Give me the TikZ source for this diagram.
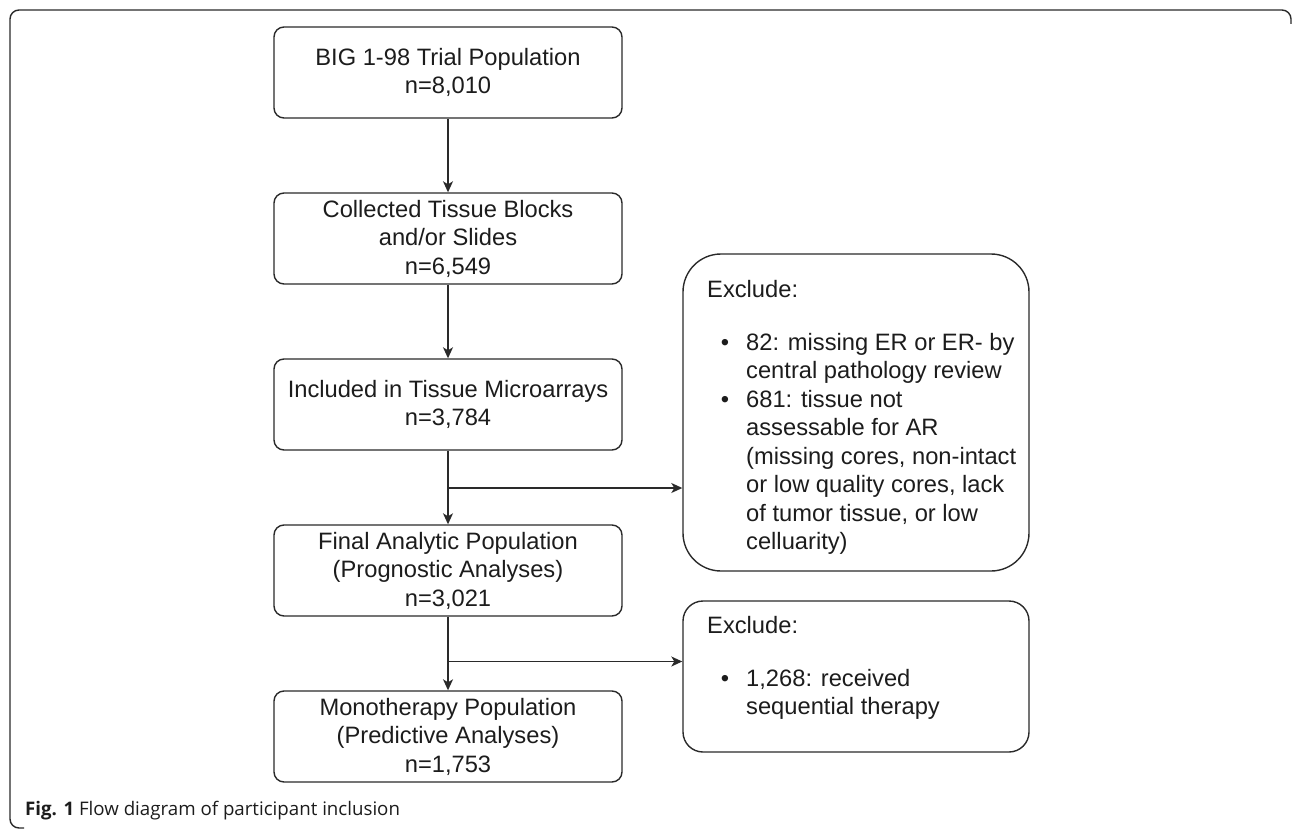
\documentclass[tikz,border=0pt]{standalone}
\usepackage{fontspec}
\setmainfont{Liberation Sans}
\newfontfamily\capfont{Open Sans}
\usetikzlibrary{arrows.meta}
\definecolor{ln}{HTML}{2A2A2A}
\definecolor{tx}{HTML}{1C1C1C}
\begin{document}
\begin{tikzpicture}[x=1pt,y=-1pt,
  box/.style={draw=ln, line width=1.4pt, rounded corners=10pt, minimum width=348pt, minimum height=91pt, inner sep=0pt, align=center, font=\fontsize{23.7}{28.5}\selectfont, text=tx},
  exbox/.style={draw=ln, line width=1.4pt, inner sep=0pt, minimum width=346pt},
  txt/.style={anchor=base west, inner sep=0pt, font=\fontsize{23.7}{28.5}\selectfont, text=tx},
  bul/.style={anchor=base, inner sep=0pt, font=\fontsize{23.7}{28.5}\selectfont, text=tx},
  arr/.style={draw=ln, line width=1.4pt, -{Stealth[length=11pt,width=10pt,inset=3pt]}}]
\useasboundingbox (0,0) rectangle (1293,829);
% frame
\draw[draw=ln, line width=1.4pt, rounded corners=9pt] (24,828) -- (10,828) -- (10,10) -- (1291,10) -- (1291,24);
% main boxes
\node[box] (b1) at (448,72.5) {BIG 1-98 Trial Population\\n=8,010};
\node[box] (b2) at (448,238.5) {Collected Tissue Blocks\\and/or Slides\\n=6,549};
\node[box] (b3) at (448,404.5) {Included in Tissue Microarrays\\n=3,784};
\node[box] (b4) at (448,570.5) {Final Analytic Population\\(Prognostic Analyses)\\n=3,021};
\node[box] (b5) at (448,736.5) {Monotherapy Population\\(Predictive Analyses)\\n=1,753};
% exclusion boxes
\node[exbox, minimum height=317pt, rounded corners=38pt] (ex1) at (856,412.5) {};
\node[exbox, minimum height=151pt, rounded corners=20pt] (ex2) at (856,676.5) {};
% exclusion texts
\node[txt] (e1h) at (707,297) {Exclude:};
\node[bul] (e1b1) at (725,350) {\textbullet};
\node[bul] (e1b2) at (725,407) {\textbullet};
\node[txt] (e1l0) at (746,350) {82: missing ER or ER- by};
\node[txt] (e1l1) at (746,378.5) {central pathology review};
\node[txt] (e1l2) at (746,407) {681: tissue not};
\node[txt] (e1l3) at (746,435.5) {assessable for AR};
\node[txt] (e1l4) at (746,464) {(missing cores, non-intact};
\node[txt] (e1l5) at (746,492.5) {or low quality cores, lack};
\node[txt] (e1l6) at (746,521) {of tumor tissue, or low};
\node[txt] (e1l7) at (746,549.5) {celluarity)};
\node[txt] (e2h) at (707,633) {Exclude:};
\node[bul] (e2b1) at (725,686) {\textbullet};
\node[txt] (e2l0) at (746,686) {1,268: received};
\node[txt] (e2l1) at (746,714.5) {sequential therapy};
% connectors
\coordinate (j1) at (448,488);
\coordinate (j2) at (448,661.5);
\draw[arr] (b1.south) -- (b2.north);
\draw[arr] (b2.south) -- (b3.north);
\draw[arr] (b3.south) -- (b4.north);
\draw[arr] (b4.south) -- (b5.north);
\draw[arr] (j1) -- (ex1.west |- j1);
\draw[arr] (j2) -- (ex2.west |- j2);
% caption
\node[anchor=base west, inner sep=0pt, font=\capfont\fontsize{18.7}{22}\selectfont, text=tx] (cap) at (25,815) {\textbf{Fig. 1} Flow diagram of participant inclusion};
\end{tikzpicture}
\end{document}
